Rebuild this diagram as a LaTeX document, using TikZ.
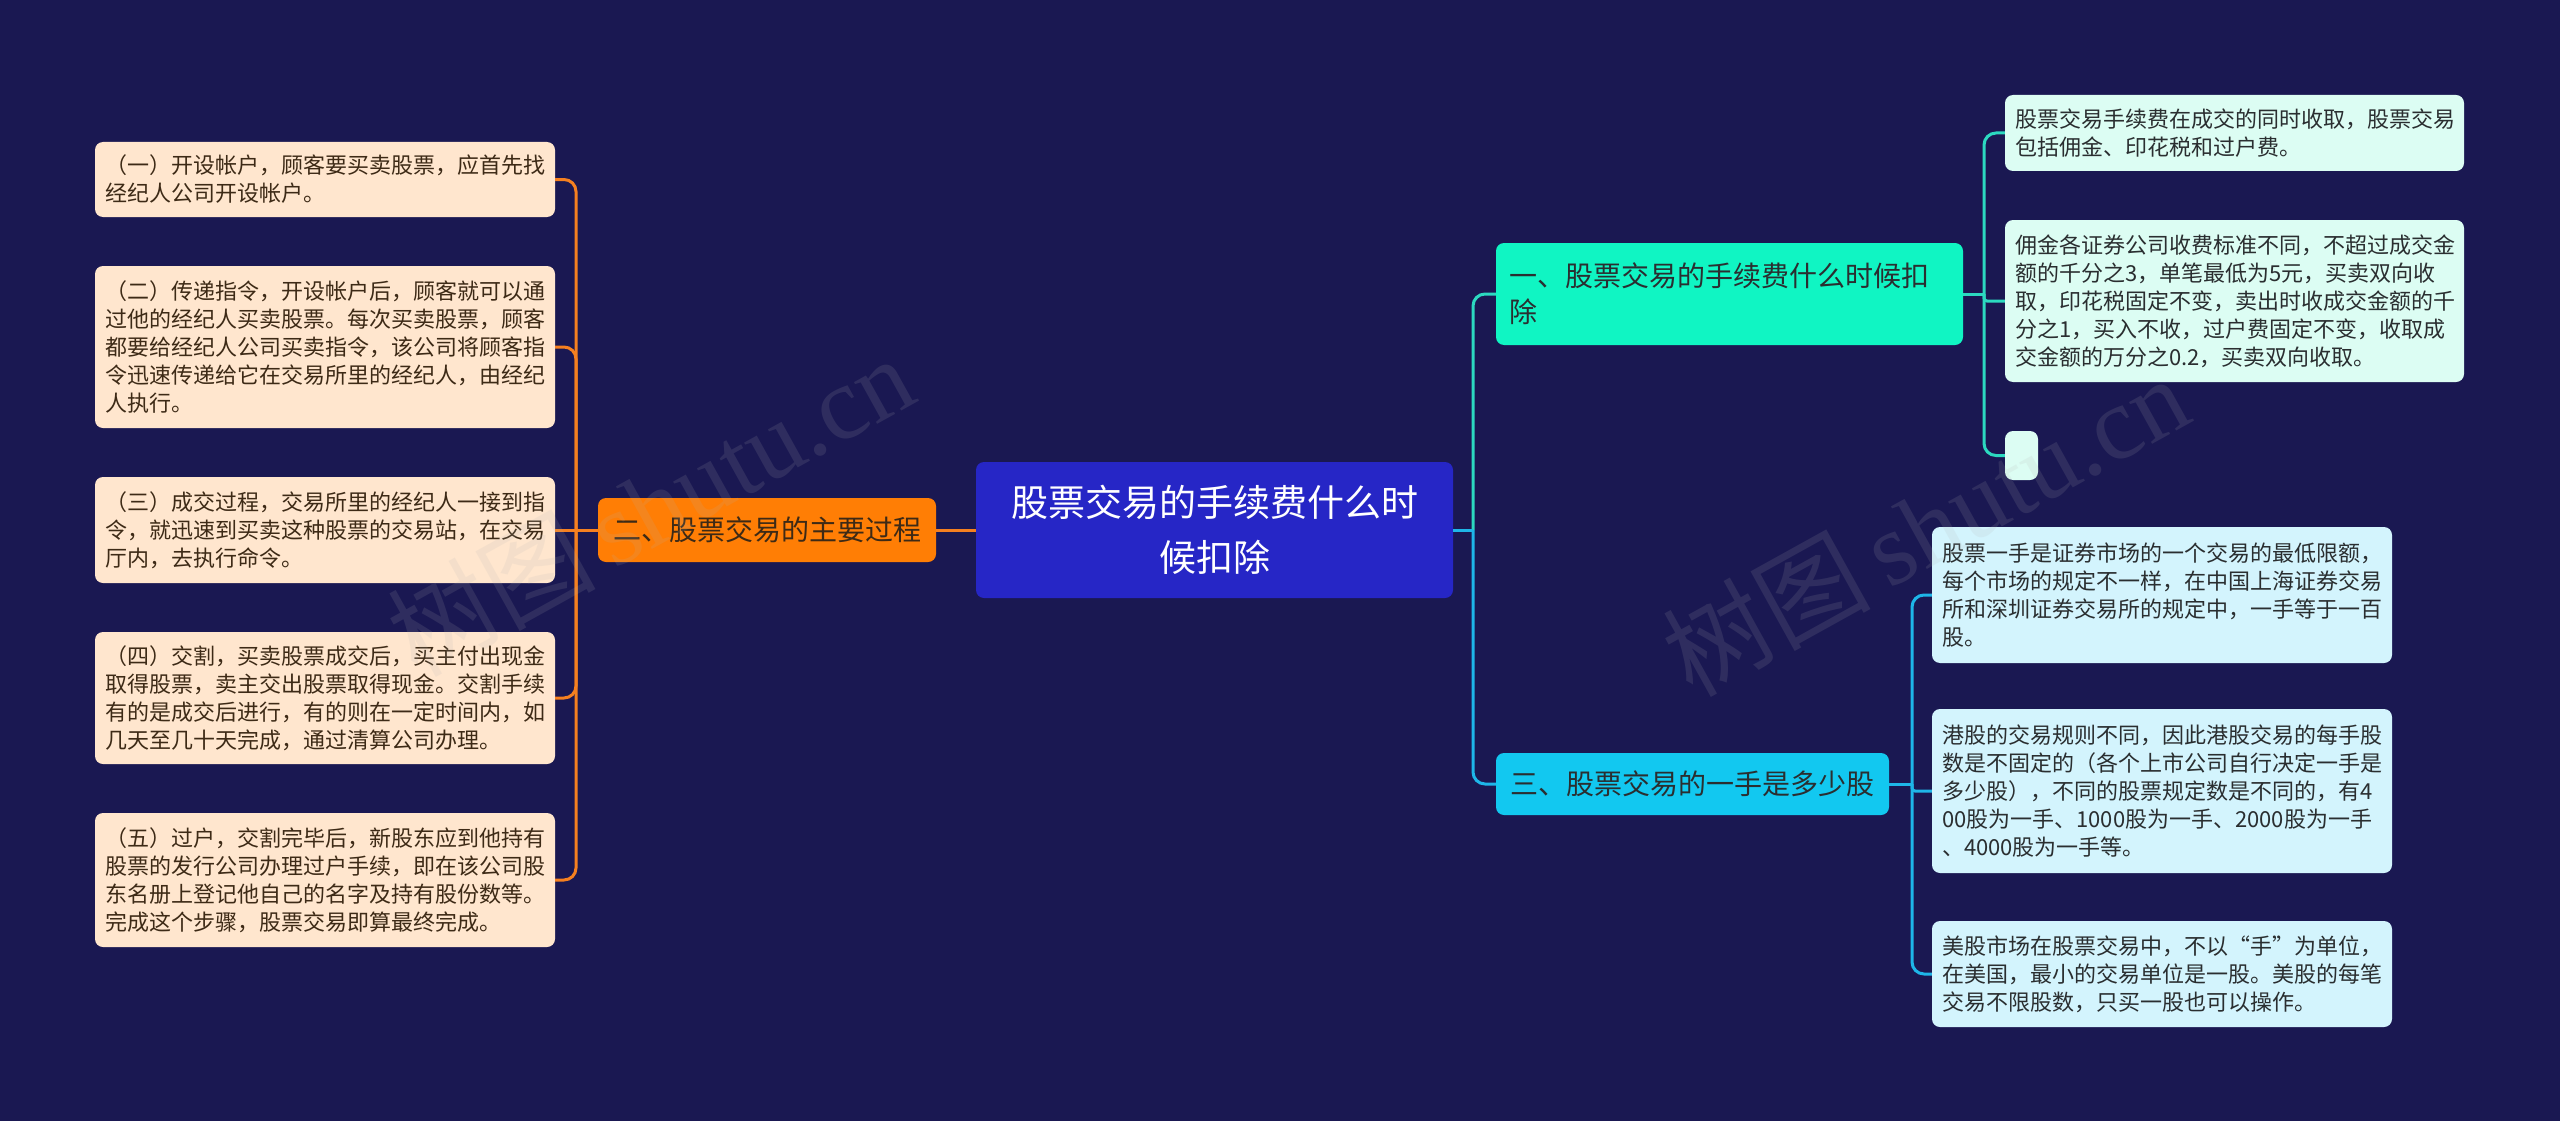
\documentclass[tikz,border=0pt]{standalone}
\usepackage{fontspec}
\setmainfont{Noto Sans CJK SC}
\newfontfamily\wmserif{Liberation Serif}
\definecolor{bgc}{HTML}{1A1852}
\definecolor{rootc}{HTML}{2626C6}
\definecolor{orgc}{HTML}{FF7E05}
\definecolor{orgl}{HTML}{F58020}
\definecolor{peach}{HTML}{FFE6CE}
\definecolor{grnc}{HTML}{10F5C3}
\definecolor{grnl}{HTML}{2CD9C0}
\definecolor{mint}{HTML}{DCFDF3}
\definecolor{cyac}{HTML}{12C8F0}
\definecolor{cyal}{HTML}{1EB6E8}
\definecolor{icec}{HTML}{D3F4FD}
\definecolor{brownt}{HTML}{3D2A16}
\definecolor{darkt}{HTML}{2A2E30}
\tikzset{
  box/.style={rounded corners=8, inner sep=0pt, align=left},
  leafL/.style={box, fill=peach, text=brownt, text width=440pt, minimum width=460pt,
    font=\fontsize{22}{28}\selectfont},
  leafG/.style={box, fill=mint, text=darkt, text width=439pt, minimum width=459pt,
    font=\fontsize{22}{28}\selectfont},
  leafC/.style={box, fill=icec, text=darkt, text width=440pt, minimum width=460pt,
    font=\fontsize{22}{28}\selectfont},
  branchbox/.style={rounded corners=8, inner sep=0pt, font=\fontsize{28}{36}\selectfont},
  oline/.style={draw=orgl, line width=3pt, rounded corners=12},
  gline/.style={draw=grnl, line width=3pt, rounded corners=12},
  cline/.style={draw=cyal, line width=3pt, rounded corners=12},
  wmark/.style={text=gray!60, opacity=0.14, rotate=29, font=\fontsize{104}{110}\selectfont},
}
\begin{document}
\begin{tikzpicture}[x=1pt,y=-1pt]
\fill[bgc] (0,0) rectangle (2560,1121);
\useasboundingbox (0,0) rectangle (2560,1121);

% root
\node[rounded corners=8, fill=rootc, text=white, minimum width=477pt, minimum height=136pt,
  align=center, inner sep=0pt, font=\fontsize{37}{55}\selectfont] (root) at (1214.5,530)
  {股票交易的手续费什么时\\候扣除};

% left branch
\node[branchbox, fill=orgc, text=brownt, minimum width=338pt, minimum height=64pt] (b2) at (767,530)
  {二、股票交易的主要过程};

\node[leafL, minimum height=75pt] (l1) at (325,179.5)
  {（一）开设帐户，顾客要买卖股票，应首先找\\经纪人公司开设帐户。};
\node[leafL, minimum height=162pt] (l2) at (325,347)
  {（二）传递指令，开设帐户后，顾客就可以通\\过他的经纪人买卖股票。每次买卖股票，顾客\\都要给经纪人公司买卖指令，该公司将顾客指\\令迅速传递给它在交易所里的经纪人，由经纪\\人执行。};
\node[leafL, minimum height=106pt] (l3) at (325,530)
  {（三）成交过程，交易所里的经纪人一接到指\\令，就迅速到买卖这种股票的交易站，在交易\\厅内，去执行命令。};
\node[leafL, minimum height=132pt] (l4) at (325,698)
  {（四）交割，买卖股票成交后，买主付出现金\\取得股票，卖主交出股票取得现金。交割手续\\有的是成交后进行，有的则在一定时间内，如\\几天至几十天完成，通过清算公司办理。};
\node[leafL, minimum height=134pt] (l5) at (325,880)
  {（五）过户，交割完毕后，新股东应到他持有\\股票的发行公司办理过户手续，即在该公司股\\东名册上登记他自己的名字及持有股份数等。\\完成这个步骤，股票交易即算最终完成。};

% right branch 1
\node[branchbox, fill=grnc, text=darkt, minimum width=467pt, minimum height=102pt,
  text width=441pt, align=left] (b1) at (1729.5,294)
  {一、股票交易的手续费什么时候扣\\除};
\node[leafG, minimum height=76pt] (r1a) at (2234.5,133)
  {股票交易手续费在成交的同时收取，股票交易\\包括佣金、印花税和过户费。};
\node[leafG, minimum height=162pt] (r1b) at (2234.5,301)
  {佣金各证券公司收费标准不同，不超过成交金\\额的千分之3，单笔最低为5元，买卖双向收\\取，印花税固定不变，卖出时收成交金额的千\\分之1，买入不收，过户费固定不变，收取成\\交金额的万分之0.2，买卖双向收取。};
\node[rounded corners=8, fill=mint, minimum width=33pt, minimum height=49pt, inner sep=0pt] (r1c) at (2021.5,455.5) {};

% right branch 3
\node[branchbox, fill=cyac, text=darkt, minimum width=393pt, minimum height=62pt] (b3) at (1692.5,784)
  {三、股票交易的一手是多少股};
\node[leafC, minimum height=136pt] (r3a) at (2162,595)
  {股票一手是证券市场的一个交易的最低限额，\\每个市场的规定不一样，在中国上海证券交易\\所和深圳证券交易所的规定中，一手等于一百\\股。};
\node[leafC, minimum height=164pt] (r3b) at (2162,791)
  {港股的交易规则不同，因此港股交易的每手股\\数是不固定的（各个上市公司自行决定一手是\\多少股），不同的股票规定数是不同的，有4\\00股为一手、1000股为一手、2000股为一手\\、4000股为一手等。};
\node[leafC, minimum height=106pt] (r3c) at (2162,974)
  {美股市场在股票交易中，不以“手”为单位，\\在美国，最小的交易单位是一股。美股的每笔\\交易不限股数，只买一股也可以操作。};

% connectors left
\coordinate (ls) at (576,530);
\draw[oline] (b2.west) -- (ls);
\draw[oline] (root.west) -- (b2.east);
\foreach \n in {l1,l2,l4,l5} \draw[oline] (ls) |- (\n.east);
\draw[oline] (ls) -- (l3.east);

% connectors right
\coordinate (rs) at (1473,530);
\draw[gline] (rs) |- (b1.west);
\draw[cline] (rs) |- (b3.west);
\draw[cline] (root.east) -- (rs);

\coordinate (s1) at (1984,294);
\draw[gline] (b1.east) -- (s1);
\draw[gline] (s1) |- (r1a.west);
\draw[gline] (s1) |- (r1c.west);
\draw[gline, rounded corners=3] (s1) |- (r1b.west);

\coordinate (s3) at (1912,784);
\draw[cline] (b3.east) -- (s3);
\draw[cline] (s3) |- (r3a.west);
\draw[cline] (s3) |- (r3c.west);
\draw[cline, rounded corners=3] (s3) |- (r3b.west);

% watermarks
\node[wmark] (wm1) at (650,505) {树图\,{\wmserif shutu.cn}};
\node[wmark] (wm2) at (1925,525) {树图\,{\wmserif shutu.cn}};
\end{tikzpicture}
\end{document}
